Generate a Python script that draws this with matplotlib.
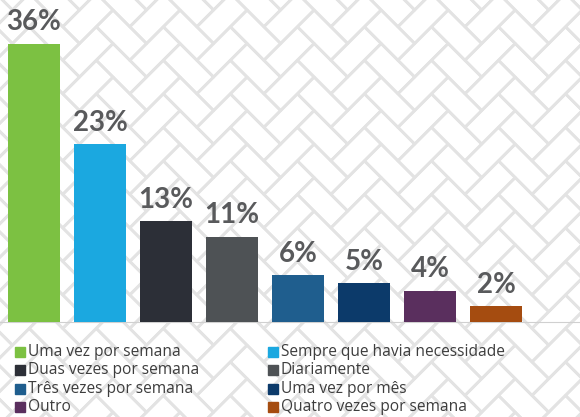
import numpy as np
import matplotlib
matplotlib.use("Agg")
import matplotlib.pyplot as plt
from matplotlib.collections import LineCollection
from matplotlib.patches import Rectangle

categories = ["Uma vez por semana", "Sempre que havia necessidade",
              "Duas vezes por semana", "Diariamente",
              "Três vezes por semana", "Uma vez por mês",
              "Outro", "Quatro vezes por semana"]
values = [36, 23, 13, 11, 6, 5, 4, 2]
colors = ["#7cc142", "#1ba8e0", "#2c2f37", "#4e5255",
          "#1f5e8e", "#0c3a6a", "#5a2f5e", "#a54c10"]

W, H = 580, 417
fig = plt.figure(figsize=(W / 100, H / 100), dpi=100)
fig.patch.set_facecolor("white")

# background herringbone, drawn in pixel coords
bg = fig.add_axes([0, 0, 1, 1], zorder=0)
bg.set_xlim(0, W)
bg.set_ylim(H, 0)
bg.axis("off")

s = 23.7
r2 = np.sqrt(2)
def tr(u, v):
    return ((u - v) / r2 * s + 46, (u + v) / r2 * s + 10)

segs = []
for k in range(-40, 40):
    for m in range(-20, 20):
        u0 = k + 4 * m
        for (bu, bv, bw, bh) in [(u0, k, 2, 1), (u0, k + 1, 1, 2)]:
            pts = [(bu, bv), (bu + bw, bv), (bu + bw, bv + bh), (bu, bv + bh), (bu, bv)]
            pp = [tr(a, b) for a, b in pts]
            xs = [p[0] for p in pp]
            ys = [p[1] for p in pp]
            if max(xs) < -20 or min(xs) > W + 20 or max(ys) < -20 or min(ys) > H + 20:
                continue
            segs.append(pp)
bg.add_collection(LineCollection(segs, colors="#e3e3e3", linewidths=2.0, zorder=1))

# baseline
bg.plot([0, W], [321.5, 321.5], color="#d0d0d0", lw=0.8, zorder=2)

# bars
ax = fig.add_axes([0, (H - 321.5) / H, 1, 321.5 / H], zorder=2)
ax.patch.set_alpha(0)
x = np.arange(len(values))
ax.bar(x, values, width=52 / 66, color=colors)
ax.set_xlim(-34 / 66, (W - 34) / 66)
ax.set_ylim(0, 321.5 / 7.72)
ax.axis("off")
for xi, v in zip(x, values):
    ax.annotate(f"{v}%", (xi, v), xytext=(0, 6), textcoords="offset points",
                ha="center", va="bottom", fontsize=20, fontweight="bold",
                family="Lato", color="#595a5c")

# legend, two columns
lg = fig.add_axes([0, 0, 1, 1], zorder=3)
lg.set_xlim(0, W)
lg.set_ylim(H, 0)
lg.axis("off")
for i, (lab, c) in enumerate(zip(categories, colors)):
    col, row = i % 2, i // 2
    x0 = 15 if col == 0 else 268
    y0 = 352 + row * 18.3
    lg.add_patch(Rectangle((x0, y0 - 5), 10, 10, color=c))
    lg.text(x0 + 13, y0, lab, va="center", ha="left", fontsize=11.2,
            family="Open Sans", color="#3d3d3d")

fig.savefig("out.png", dpi=100, facecolor="white")
